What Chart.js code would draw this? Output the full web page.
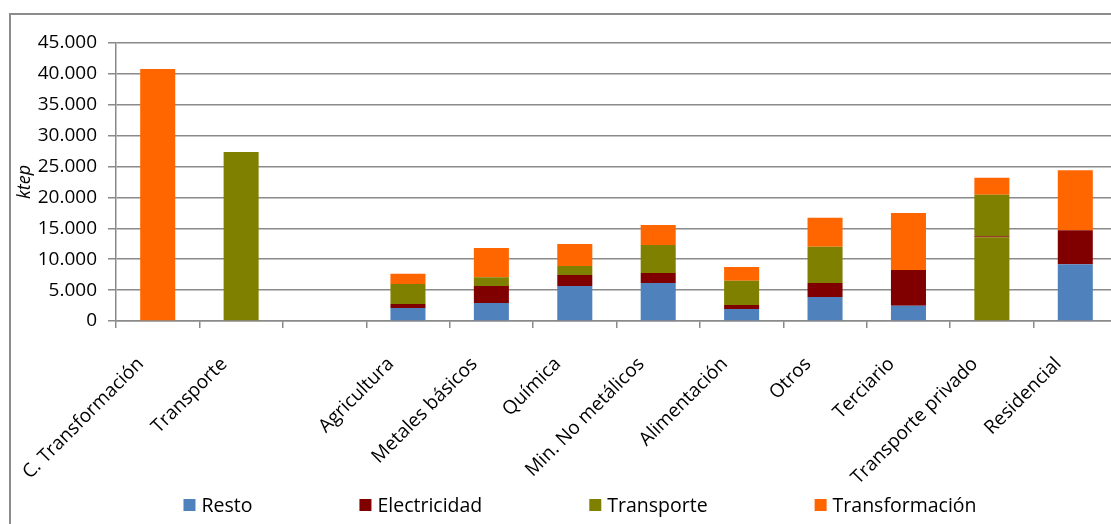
<!DOCTYPE html>
<html>
<head>
<meta charset="utf-8">
<script src="https://cdn.jsdelivr.net/npm/chart.js@4/dist/chart.umd.min.js"></script>
<style>
  html, body { margin: 0; padding: 0; background: #fff; overflow: hidden; }
  #wrap { position: relative; width: 1125px; height: 524px; }
</style>
</head>
<body>
<div id="wrap"><canvas id="chart-ktep"></canvas></div>
<script>
/* ── data (ktep) ── */
const categories = ['C. Transformación', 'Transporte', '', 'Agricultura', 'Metales básicos', 'Química',
  'Min. No metálicos', 'Alimentación', 'Otros', 'Terciario', 'Transporte privado', 'Residencial'];
const resto          = [0, 0, 0, 2100, 2900, 5650, 6150, 1950, 3900, 2450, 13550, 9200];
const electricidad   = [0, 0, 0, 650, 2750, 1800, 1600, 650, 2250, 5800, 150, 5500];
const transporte     = [0, 27350, 0, 3250, 1450, 1450, 4550, 3900, 5850, 0, 6750, 0];
const transformacion = [40800, 0, 0, 1650, 4700, 3550, 3250, 2250, 4700, 9250, 2750, 9700];
const yTicks = [0, 5000, 10000, 15000, 20000, 25000, 30000, 35000, 40000, 45000];

const C_RESTO = '#4f81bd', C_ELEC = '#800000', C_TRANSP = '#808000', C_TRANSF = '#ff6600';
const FONT = "'Open Sans', 'Noto Sans', sans-serif";
const GRID = '#8a8a8a';

// the "Transporte privado" base block is drawn in olive in the original
const restoColors = categories.map(c => c === 'Transporte privado' ? C_TRANSP : C_RESTO);

// ── frame round the whole chart ──
const framePlugin = {
  id: 'frame',
  beforeDraw(chart) {
    const ctx = chart.ctx;
    ctx.save();
    ctx.strokeStyle = '#8c8c8c';
    ctx.lineWidth = 2;
    ctx.strokeRect(10, 14, 2000, 2000);
    ctx.restore();
  }
};

// ── legend with wide, even gaps (built-in one pads vertically too) ──
const legendPlugin = {
  id: 'wideLegend',
  afterDraw(chart) {
    const ctx = chart.ctx;
    const box = 12, gapText = 6, gapItem = 107, cx = 580, cy = 505;
    ctx.save();
    ctx.font = `19.5px ${FONT}`;
    ctx.textBaseline = 'middle';
    const items = chart.data.datasets.map(ds => ({ text: ds.label, color: ds.legendColor }));
    const widths = items.map(it => box + gapText + ctx.measureText(it.text).width);
    const total = widths.reduce((a, b) => a + b, 0) + gapItem * (items.length - 1);
    let x = cx - total / 2;
    items.forEach((it, i) => {
      ctx.fillStyle = it.color;
      ctx.fillRect(x, cy - box / 2, box, box);
      ctx.fillStyle = '#000';
      ctx.fillText(it.text, x + box + gapText, cy + 1);
      x += widths[i] + gapItem;
    });
    ctx.restore();
  }
};

new Chart(document.getElementById('chart-ktep'), {
  type: 'bar',
  data: {
    labels: categories,
    datasets: [
      { label: 'Resto', data: resto, backgroundColor: restoColors, legendColor: C_RESTO },
      { label: 'Electricidad', data: electricidad, backgroundColor: C_ELEC, legendColor: C_ELEC },
      { label: 'Transporte', data: transporte, backgroundColor: C_TRANSP, legendColor: C_TRANSP },
      { label: 'Transformación', data: transformacion, backgroundColor: C_TRANSF, legendColor: C_TRANSF },
    ].map(d => ({ ...d, borderWidth: 0, barPercentage: 0.84, categoryPercentage: 0.5 }))
  },
  options: {
    responsive: true, maintainAspectRatio: false, animation: false,
    layout: { padding: { top: 43, right: 8, bottom: 0, left: 0 } },
    plugins: { legend: { display: false }, tooltip: { enabled: false } },
    scales: {
      x: {
        stacked: true,
        afterFit: s => { s.height = 203; },
        grid: { drawOnChartArea: false, color: GRID, lineWidth: 1.5, tickLength: 7 },
        border: { color: GRID, width: 1.5 },
        ticks: {
          autoSkip: false, maxRotation: 45, minRotation: 45, padding: 25, labelOffset: -17,
          color: '#000', font: { family: FONT, size: 19 }
        }
      },
      y: {
        stacked: true, min: 0, max: 45000,
        afterFit: s => { s.width = 116; },
        afterBuildTicks: s => { s.ticks = yTicks.map(v => ({ value: v })); },
        grid: { color: GRID, lineWidth: 1.5, tickLength: 8 },
        border: { color: GRID, width: 1.5 },
        title: {
          display: true, text: 'ktep', color: '#000',
          font: { family: FONT, size: 18, style: 'italic' }, padding: { top: 14, bottom: 0 }
        },
        ticks: {
          padding: 11, color: '#000', font: { family: FONT, size: 19 },
          callback: v => v.toLocaleString('de-DE')
        }
      }
    }
  },
  plugins: [framePlugin, legendPlugin]
});
</script>
</body>
</html>
